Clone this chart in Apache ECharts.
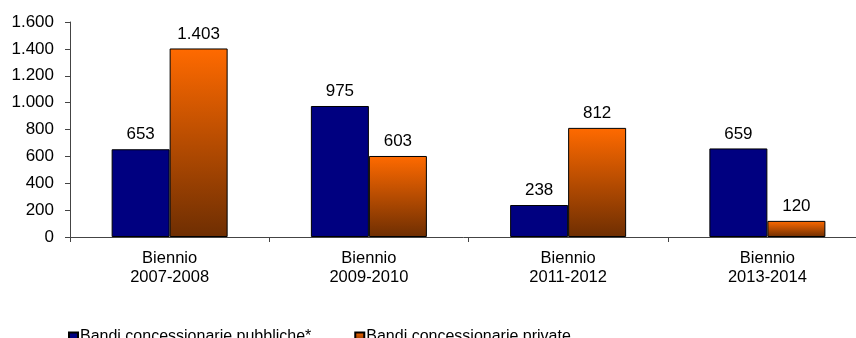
<!DOCTYPE html>
<html>
<head>
<meta charset="utf-8">
<script src="https://cdn.jsdelivr.net/npm/echarts@6/dist/echarts.min.js"></script>
<style>
html,body{margin:0;padding:0;background:#fff;}
#chart{width:856px;height:338px;}
</style>
</head>
<body>
<div id="chart"></div>
<script>
const categories = ['Biennio\n2007-2008', 'Biennio\n2009-2010', 'Biennio\n2011-2012', 'Biennio\n2013-2014'];
const pubbliche = [653, 975, 238, 659];
const private_ = [1403, 603, 812, 120];
const seriesNames = ['Bandi concessionarie pubbliche*', 'Bandi concessionarie private'];
const yTicks = [0, 200, 400, 600, 800, 1000, 1200, 1400, 1600];

function fmt(v) {
  return String(v).replace(/\B(?=(\d{3})+(?!\d))/g, '.');
}

const font = 'Liberation Sans, Arial, sans-serif';
const chart = echarts.init(document.getElementById('chart'), null, {renderer: 'canvas'});
const orangeGrad = new echarts.graphic.LinearGradient(0, 0, 0, 1, [
  {offset: 0, color: '#FF6A00'},
  {offset: 1, color: '#6E2E02'}
]);
chart.setOption({
  animation: false,
  textStyle: {fontFamily: font},
  grid: {left: 70, top: 22, width: 797, height: 215, containLabel: false, outerBoundsMode: 'none'},
  legend: {
    left: 63, top: 324,
    itemWidth: 9, itemHeight: 9, itemGap: 43,
    icon: 'rect',
    textStyle: {fontSize: 16, color: '#000', fontFamily: font, padding: [0, 0, 0, -3]},
    data: seriesNames
  },
  xAxis: {
    type: 'category',
    data: categories,
    axisLine: {lineStyle: {color: '#444', width: 1}},
    axisTick: {show: true, length: 5, alignWithLabel: false, lineStyle: {color: '#444'}},
    axisLabel: {fontSize: 16.5, color: '#000', lineHeight: 19, margin: 12, fontFamily: font}
  },
  yAxis: {
    type: 'value',
    min: yTicks[0], max: yTicks[yTicks.length - 1], interval: 200,
    splitLine: {show: false},
    axisLine: {show: true, lineStyle: {color: '#444', width: 1}},
    axisTick: {show: true, length: 5, lineStyle: {color: '#444'}},
    axisLabel: {fontSize: 17, color: '#000', margin: 16, fontFamily: font, formatter: fmt}
  },
  series: [
    {
      name: seriesNames[0], type: 'bar', data: pubbliche,
      barWidth: 58, barGap: '0%',
      itemStyle: {color: '#000080', borderColor: '#000', borderWidth: 1},
      label: {show: true, position: 'top', distance: 6, fontSize: 17, color: '#000', fontFamily: font, formatter: p => fmt(p.value)}
    },
    {
      name: seriesNames[1], type: 'bar', data: private_,
      barWidth: 58, barGap: '0%',
      itemStyle: {color: orangeGrad, borderColor: '#000', borderWidth: 1},
      label: {show: true, position: 'top', distance: 6, fontSize: 17, color: '#000', fontFamily: font, formatter: p => fmt(p.value)}
    }
  ]
});
</script>
</body>
</html>
